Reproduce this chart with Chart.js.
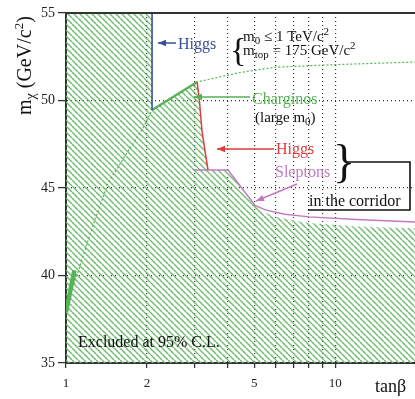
<!DOCTYPE html>
<html>
<head>
<meta charset="utf-8">
<script src="https://cdn.jsdelivr.net/npm/chart.js@4.4.0/dist/chart.umd.min.js"></script>
<style>
  html, body { margin: 0; padding: 0; background: #fff; }
  canvas { display: block; }
</style>
</head>
<body>
<canvas id="chart" width="415" height="399"></canvas>
<script>
// axis ticks
const xTicks = [1, 2, 3, 4, 5, 6, 7, 8, 9, 10];
const xLabels = [1, 2, 5, 10];
const yTicks = [35, 40, 45, 50, 55];

// excluded region (hatched), upper edge
const excTan = [1, 2.088, 2.088, 3.07, 3.13, 3.20, 3.27, 3.37, 4.0, 5.04, 5.5, 6.0, 8, 12, 19.8];
const excM   = [55, 55, 49.46, 51.06, 50.0, 48.3, 47.3, 46.03, 46.03, 44.0, 43.6, 43.35, 43.0, 42.8, 42.7];

// Higgs limit (blue, low tanb)
const higgsBlueTan = [2.088, 2.088];
const higgsBlueM   = [49.46, 55];

// Charginos (solid part)
const charTan = [2.088, 3.07];
const charM   = [49.46, 51.06];

// Charginos, large m0 (dotted)
const charLargeTan = [1.07, 1.108, 1.249, 1.433, 1.70, 1.916, 2.088, 3.07, 4.43, 6.0, 10, 19.8];
const charLargeM   = [39.5, 40.2, 42.7, 45.29, 47.1, 48.31, 49.46, 51.06, 51.6, 51.9, 52.05, 52.2];

// steep start of the chargino curve at tanb ~ 1
const wedgeTan = [1.0, 1.075];
const wedgeM   = [37.9, 40.3];

// Higgs limit in the corridor (red)
const higgsRedTan = [3.07, 3.13, 3.20, 3.27, 3.37];
const higgsRedM   = [51.06, 50.0, 48.3, 47.3, 46.03];

// Sleptons (purple)
const slepTan = [3.0, 4.0, 5.04, 5.5, 6.5, 8, 12, 19.8];
const slepM   = [46.03, 46.03, 44.0, 43.75, 43.5, 43.35, 43.2, 43.05];

const pts = (xs, ys) => xs.map((x, i) => ({ x: x, y: ys[i] }));

// hatch pattern
const pc = document.createElement('canvas');
pc.width = 6; pc.height = 6;
const pg = pc.getContext('2d');
pg.strokeStyle = '#6fbb6f';
pg.lineWidth = 1.4;
for (const k of [-6, 0, 6]) {
  pg.beginPath(); pg.moveTo(k, 0); pg.lineTo(k + 6, 6); pg.stroke();
}
const hatch = pg.createPattern(pc, 'repeat');

const SERIF = '"Liberation Serif", "DejaVu Serif", serif';

function arrow(ctx, x1, y1, x2, y2, color) {
  const ang = Math.atan2(y2 - y1, x2 - x1);
  ctx.strokeStyle = color; ctx.fillStyle = color; ctx.lineWidth = 1.5;
  ctx.beginPath(); ctx.moveTo(x1, y1); ctx.lineTo(x2, y2); ctx.stroke();
  ctx.beginPath();
  ctx.moveTo(x2, y2);
  ctx.lineTo(x2 - 8 * Math.cos(ang) + 3.2 * Math.sin(ang), y2 - 8 * Math.sin(ang) - 3.2 * Math.cos(ang));
  ctx.lineTo(x2 - 8 * Math.cos(ang) - 3.2 * Math.sin(ang), y2 - 8 * Math.sin(ang) + 3.2 * Math.cos(ang));
  ctx.closePath(); ctx.fill();
}

// draw text runs: [text, size, dy]
function runs(ctx, x, y, parts, color) {
  ctx.fillStyle = color;
  ctx.textAlign = 'left'; ctx.textBaseline = 'alphabetic';
  for (const [t, s, dy] of parts) {
    ctx.font = s + 'px ' + SERIF;
    ctx.fillText(t, x, y + dy);
    x += ctx.measureText(t).width;
  }
  return x;
}

const deco = {
  id: 'deco',
  afterDraw(chart) {
    const { ctx, chartArea: a } = chart;
    ctx.save();

    // top frame line
    ctx.strokeStyle = '#333'; ctx.lineWidth = 2;
    ctx.beginPath(); ctx.moveTo(a.left - 1, a.top); ctx.lineTo(a.right, a.top); ctx.stroke();

    // Higgs (blue)
    arrow(ctx, 176, 43, 158, 43, '#3a4f9c');
    runs(ctx, 178, 49, [['Higgs', 16, 0]], '#3a4f9c');

    // conditions
    ctx.font = '34px ' + SERIF; ctx.fillStyle = '#111';
    ctx.fillText('{', 230, 61);
    runs(ctx, 243, 41, [['m', 15, 0], ['0', 11, 3], [' \u2264 1 TeV/c', 15, 0], ['2', 11, -6]], '#111');
    runs(ctx, 243, 55, [['m', 15, 0], ['top', 11, 3], [' = 175 GeV/c', 15, 0], ['2', 11, -6]], '#111');

    // Charginos
    arrow(ctx, 250, 97, 194, 97, '#55b255');
    runs(ctx, 252, 104, [['Charginos', 16, 0]], '#55b255');
    runs(ctx, 255, 122, [['(large m', 15, 0], ['0', 11, 3], [')', 15, 0]], '#111');

    // Higgs (red)
    arrow(ctx, 274, 149, 217, 149, '#e23b3b');
    runs(ctx, 276, 154, [['Higgs', 16, 0]], '#e23b3b');

    // Sleptons
    runs(ctx, 275, 177, [['Sleptons', 16, 0]], '#c27ac2');
    arrow(ctx, 297, 184, 256, 201, '#c27ac2');

    // brace + box
    ctx.font = '46px ' + SERIF; ctx.fillStyle = '#111';
    ctx.fillText('}', 333, 177);
    ctx.strokeStyle = '#111'; ctx.lineWidth = 1.6;
    ctx.beginPath();
    ctx.moveTo(347, 162); ctx.lineTo(410, 162); ctx.lineTo(410, 210); ctx.lineTo(308, 210);
    ctx.stroke();
    runs(ctx, 309, 206, [['in the corridor', 16, 0]], '#111');

    // excluded label
    runs(ctx, 78, 347, [['Excluded at 95% C.L.', 16, 0]], '#111');

    // axis titles
    runs(ctx, 375, 392, [['tan\u03b2', 18, 0]], '#111');
    ctx.translate(31, 115);
    ctx.rotate(-Math.PI / 2);
    runs(ctx, 0, 0, [['m', 20, 0], ['\u03c7', 14, 4], [' (GeV/c', 20, 0], ['2', 13, -8], [')', 20, 0]], '#111');

    ctx.restore();
  }
};

const lineDs = (data, color, width, extra) => Object.assign({
  data: data, borderColor: color, borderWidth: width, backgroundColor: 'transparent',
  fill: false, pointRadius: 0, tension: 0
}, extra || {});

new Chart(document.getElementById('chart'), {
  type: 'line',
  data: {
    datasets: [
      lineDs(pts(higgsBlueTan, higgsBlueM), '#3a4f9c', 1.6),
      lineDs(pts(higgsRedTan, higgsRedM), '#e23b3b', 1.5),
      lineDs(pts(charTan, charM), '#55b255', 2.2),
      lineDs(pts(slepTan, slepM), '#c27ac2', 1.5),
      lineDs(pts(wedgeTan, wedgeM), '#55b255', 4.5),
      lineDs(pts(charLargeTan, charLargeM), '#55b255', 1.2, { borderDash: [2, 2] }),
      {
        data: pts(excTan, excM), borderWidth: 0, borderColor: 'transparent',
        backgroundColor: hatch, fill: { value: 35 }, pointRadius: 0, tension: 0
      }
    ]
  },
  options: {
    responsive: false,
    animation: false,
    layout: { padding: { top: 13, right: 0, left: 0, bottom: 0 } },
    plugins: { legend: { display: false }, tooltip: { enabled: false } },
    scales: {
      x: {
        type: 'logarithmic', min: 1, max: 19.8,
        afterBuildTicks: s => { s.ticks = xTicks.map(v => ({ value: v })); },
        afterFit: s => { s.height = 36; },
        grid: {
          color: c => (c.tick && c.tick.value === 1) ? 'rgba(0,0,0,0)' : '#333',
          lineWidth: 1.2, tickLength: 5, tickColor: '#333', tickWidth: 1.3
        },
        border: { color: '#333', width: 2, dash: [1, 3] },
        ticks: {
          autoSkip: false, maxRotation: 0, padding: 8, color: '#222',
          font: { family: SERIF, size: 13 },
          callback: v => xLabels.includes(v) ? String(v) : ''
        }
      },
      y: {
        min: 35, max: 55,
        afterBuildTicks: s => { s.ticks = yTicks.map(v => ({ value: v })); },
        afterFit: s => { s.width = 66; },
        grid: {
          color: c => (c.tick && (c.tick.value === 35 || c.tick.value === 55)) ? 'rgba(0,0,0,0)' : '#333',
          lineWidth: 1.2, tickLength: 8, tickColor: '#333', tickWidth: 1.3
        },
        border: { color: '#333', width: 2, dash: [1, 3] },
        ticks: { padding: 3, color: '#222', font: { family: SERIF, size: 14 } }
      }
    }
  },
  plugins: [deco]
});
</script>
</body>
</html>
